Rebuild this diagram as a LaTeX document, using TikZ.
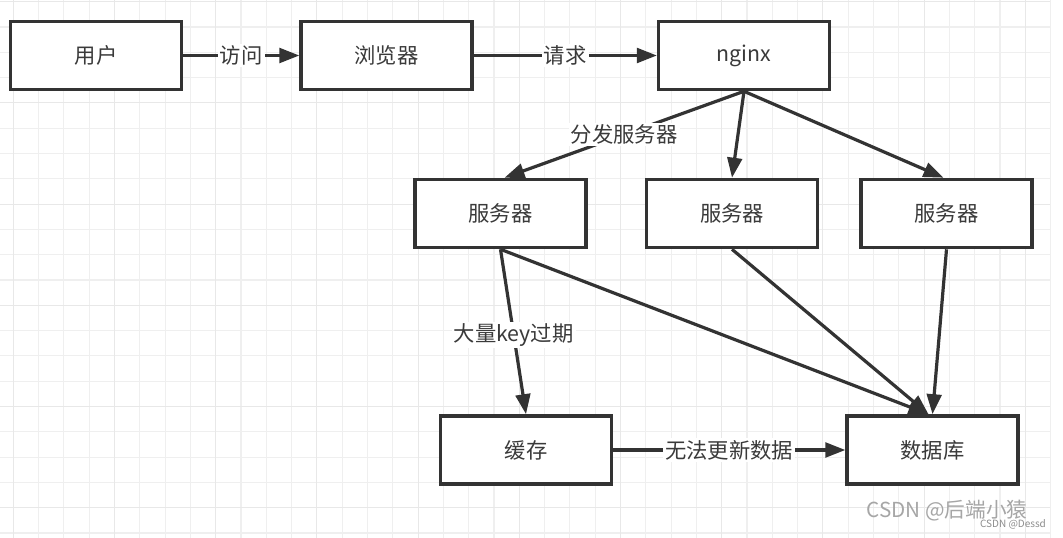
\documentclass[tikz,border=0pt]{standalone}
\usepackage{fontspec}
\setmainfont{Noto Sans CJK SC}
\usetikzlibrary{arrows.meta,calc}
\definecolor{ink}{HTML}{333333}
\definecolor{txt}{HTML}{3A3A3A}
\definecolor{gridminor}{HTML}{EFEFEF}
\definecolor{gridmajor}{HTML}{E8E8E8}
\begin{document}
\begin{tikzpicture}[x=0.75pt,y=-0.75pt,
  box/.style={draw=ink, line width=2.7pt, fill=white, minimum width=128pt, minimum height=51pt,
    inner sep=0pt, text=txt, font=\fontsize{16}{18}\selectfont},
  arr/.style={draw=ink, line width=2.4pt, -{Triangle[length=15pt,width=11pt]}},
  lbl/.style={fill=white, inner sep=1.5pt, text=txt, font=\fontsize{16}{18}\selectfont},
  wm/.style={text=black!35, inner sep=0pt}]
\useasboundingbox[fill=white] (0,0) rectangle (1063,538);
% grid
\foreach \i in {0,...,41} \draw[gridminor, line width=0.8pt] ({13.3+\i*25.3},0) -- ({13.3+\i*25.3},538);
\foreach \j in {0,...,21} \draw[gridminor, line width=0.8pt] (0,{1.7+\j*25.3}) -- (1050,{1.7+\j*25.3});
\foreach \i in {0,4,...,40} \draw[gridmajor, line width=0.8pt] ({13.3+\i*25.3},0) -- ({13.3+\i*25.3},538);
\foreach \j in {0,4,...,20} \draw[gridmajor, line width=0.8pt] (0,{1.7+\j*25.3}) -- (1050,{1.7+\j*25.3});
% nodes
\node[box] (user) at (96,55.5) {用户};
\node[box] (browser) at (386.5,55.5) {浏览器};
\node[box] (nginx) at (744,55.5) {nginx};
\node[box] (s1) at (500.5,213.5) {服务器};
\node[box] (s2) at (732,213.5) {服务器};
\node[box] (s3) at (946.5,213.5) {服务器};
\node[box] (cache) at (526,450) {缓存};
\node[box] (db) at (932.5,450) {数据库};
% connectors
\draw[arr] (user) -- node[lbl]{访问} (browser);
\draw[arr] (browser) -- node[lbl]{请求} (nginx);
\draw[arr] (nginx.south) -- node[lbl, pos=0.5]{分发服务器} ($(s1.north)+(4,0)$);
\draw[arr] (nginx.south) -- (s2.north);
\draw[arr] (nginx.south) -- ($(s3.north)+(-3,0)$);
\draw[arr] (s1.south) -- node[lbl, pos=0.52]{大量key过期} (cache.north);
\draw[arr] (s1.south) -- ($(db.north)+(-4,0)$);
\draw[arr] (s2.south) -- ($(db.north)+(-4,0)$);
\draw[arr] (s3.south) -- (db.north);
\draw[arr] (cache) -- node[lbl]{无法更新数据} (db);
% watermark
\node[wm, font=\fontsize{15.5}{17}\selectfont] (wm1) at (947,511) {CSDN @后端小猿};
\node[wm, font=\fontsize{7.5}{9}\selectfont, text=black!45] (wm2) at (1013,524) {CSDN @Dessd};
\end{tikzpicture}
\end{document}
